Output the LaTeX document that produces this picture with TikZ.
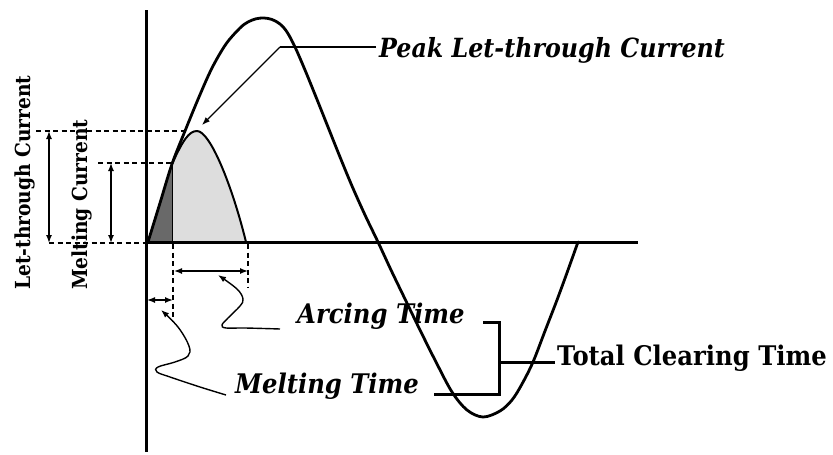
\documentclass[tikz,border=0pt]{standalone}
\usepackage{fontspec}
\setmainfont{DejaVu Serif}
\newfontfamily\labfont[FakeStretch=0.90]{DejaVu Serif}
\usetikzlibrary{arrows.meta}
\definecolor{darkfill}{RGB}{105,105,105}
\definecolor{lightfill}{RGB}{221,221,221}
\begin{document}
\begin{tikzpicture}[x=1pt,y=-1pt,
  bigcurve/.style={line width=2.8pt, line join=round, line cap=round},
  axisline/.style={line width=3pt},
  smallcurve/.style={line width=2pt, line join=round},
  thinline/.style={line width=1.4pt},
  tip/.style={-{Latex[length=8pt,width=6pt]}},
  dim/.style={line width=1.4pt, {Latex[length=8pt,width=6pt]}-{Latex[length=8pt,width=6pt]}},
  guide/.style={line width=1.1pt, dash pattern=on 5pt off 3.5pt},
  bracketline/.style={line width=3pt},
  lab/.style={font=\labfont\bfseries\fontsize{27}{31}\selectfont, inner sep=0pt, anchor=base west},
  ilab/.style={font=\labfont\bfseries\itshape\fontsize{27}{31}\selectfont, inner sep=0pt, anchor=base west},
  rlab/.style={font=\labfont\bfseries\fontsize{20.7}{24}\selectfont, inner sep=0pt, anchor=base west, rotate=90}
]
\useasboundingbox (0,0) rectangle (833,455);

% key points
\coordinate (O) at (147,242);
\coordinate (M) at (172,164);
\coordinate (Mb) at (172,242);
\coordinate (P) at (197,131);
\coordinate (E) at (246,242);

% fills
\fill[darkfill] (O) -- (160,203) -- (M) -- (Mb) -- cycle;
\fill[lightfill] (M) .. controls (183,140) and (189,131) .. (P)
   .. controls (210,131) and (232,185) .. (E) -- (Mb) -- cycle;
\draw[line width=0.8pt] (M) -- (Mb);
\draw[smallcurve] (M) .. controls (183,140) and (189,131) .. (P)
   .. controls (210,131) and (232,185) .. (E);

% big current curve
\draw[bigcurve] plot[smooth, tension=0.55] coordinates {
 (148,242) (160,203) (172,164) (185,131) (199,97) (212,68) (226,44)
 (240,28) (248,22) (256,18.8) (264,18) (272,19.5) (280,24) (287,32)
 (295,47) (305,70) (316,97) (328,127) (340,157) (352,186) (365,215)
 (378,242) (391,270) (405,299) (420,330) (436,362) (452,392) (467,410)
 (483,417) (500,411) (512,400) (522,384) (533,362) (545,331) (557,300)
 (568,270) (578,242)};

% axes
\coordinate (Ytop) at (146,10);
\coordinate (Ybot) at (146,452);
\coordinate (Xl) at (146,242);
\coordinate (Xr) at (638,242);
\draw[axisline] (Ytop) -- (Ybot);
\draw[axisline] (Xl) -- (Xr);

% dashed guide lines
\coordinate (G1) at (36,131);
\coordinate (G1e) at (187,131);
\coordinate (G2) at (98,163);
\coordinate (G2e) at (172,163);
\coordinate (G3) at (49,243);
\coordinate (G3e) at (146,243);
\draw[guide] (G1) -- (G1e);
\draw[guide] (G2) -- (G2e);
\draw[guide] (G3) -- (G3e);
\coordinate (V1) at (173,244);
\coordinate (V1e) at (173,322);
\coordinate (V2) at (248,244);
\coordinate (V2e) at (248,287);
\draw[guide] (V1) -- (V1e);
\draw[guide] (V2) -- (V2e);

% dimension arrows
\coordinate (A1t) at (49,131);
\coordinate (A1b) at (49,243);
\coordinate (A2t) at (111,163);
\coordinate (A2b) at (111,243);
\draw[dim] (A1t) -- (A1b);
\draw[dim] (A2t) -- (A2b);
\coordinate (AT1) at (174,271);
\coordinate (AT2) at (248,271);
\draw[dim] (AT1) -- (AT2);
\coordinate (MT1) at (147,300);
\coordinate (MT2) at (173,300);
\draw[dim] (MT1) -- (MT2);

% labels
\node[rlab] (letlab) at (30,290) {Let-through Current};
\node[rlab] (meltlab) at (87,290) {Melting Current};
\node[ilab, font=\labfont\bfseries\itshape\fontsize{26.4}{30}\selectfont] (peaklab) at (379,57) {Peak Let-through Current};
\node[ilab] (arclab) at (297,323) {Arcing Time};
\node[ilab] (mtlab) at (235,393) {Melting Time};
\node[lab] (totlab) at (557,365) {Total Clearing Time};

% peak leader
\coordinate (PK1) at (376,47);
\coordinate (PK2) at (280,47);
\coordinate (PK3) at (202,125);
\draw[thinline] (PK1) -- (PK2);
\draw[thinline, tip] (PK2) -- (PK3);

% squiggly leaders
\draw[thinline, tip] plot[smooth, tension=0.6] coordinates {
 (280,329) (245,328) (226,328) (222,325) (228,318) (240,306) (243,299)
 (237,289) (218,275)};
\draw[thinline, tip] plot[smooth, tension=0.6] coordinates {
 (226,395) (200,387) (170,377) (157,372) (158,367) (175,362) (188,356)
 (189,346) (178,327) (161,310)};

% total clearing bracket
\coordinate (B1) at (483,322);
\coordinate (B2) at (499,322);
\coordinate (B3) at (499,394);
\coordinate (B4) at (434,394);
\coordinate (B5) at (499,362);
\coordinate (B6) at (555,362);
\draw[bracketline] (B1) -- (B2) -- (B3) -- (B4);
\draw[bracketline] (B5) -- (B6);
\end{tikzpicture}
\end{document}
